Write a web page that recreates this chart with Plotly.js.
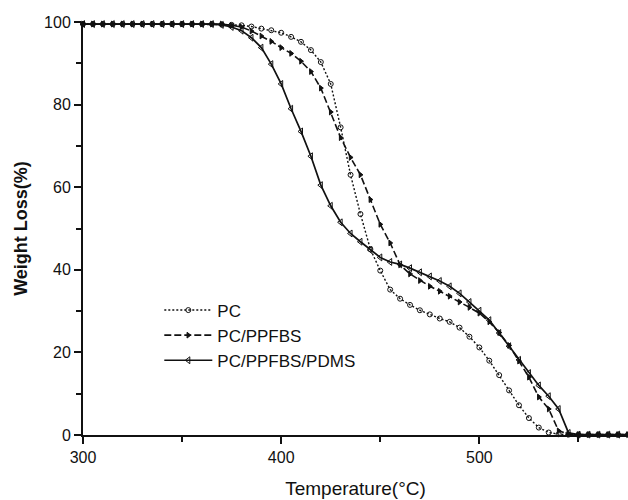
<!DOCTYPE html>
<html>
<head>
<meta charset="utf-8">
<script src="https://cdn.plot.ly/plotly-3.0.1.min.js"></script>
<style>html,body{margin:0;padding:0;background:#fff}#chart{width:628px;height:500px}</style>
</head>
<body>
<div id="chart"></div>
<script>
// Temperature (°C), 5 °C steps
const temperature = [300,305,310,315,320,325,330,335,340,345,350,355,360,365,370,375,380,385,390,395,
  400,405,410,415,420,425,430,435,440,445,450,455,460,465,470,475,480,485,490,495,
  500,505,510,515,520,525,530,535,540,545,550,555,560,565,570,575];

const pcWeight = [99.5,99.5,99.5,99.5,99.5,99.5,99.5,99.5,99.5,99.5,99.5,99.5,99.5,99.5,99.4,99.3,99.2,98.9,98.4,98.0,
  97.4,96.4,95.2,93.2,90.3,85.0,74.5,63.0,53.5,45.0,39.8,35.2,33.0,31.5,30.2,29.2,28.2,27.4,26.0,23.8,
  21.2,18.0,14.5,10.8,7.2,4.1,1.8,0.6,0.2,0.1,0.1,0.1,0.1,0.1,0.1,0.1];

const ppfbsWeight = [99.5,99.5,99.5,99.5,99.5,99.5,99.5,99.5,99.5,99.5,99.5,99.5,99.5,99.5,99.5,99.2,98.8,97.8,96.6,95.3,
  93.8,92.4,90.5,88.0,84.0,78.2,72.0,67.2,63.0,57.0,51.0,46.5,41.2,39.0,37.4,36.0,34.8,33.6,32.2,30.9,
  29.5,27.4,24.8,21.7,17.9,14.0,9.2,6.3,1.0,0.2,0.1,0.1,0.1,0.1,0.1,0.1];

const pdmsWeight = [99.5,99.5,99.5,99.5,99.5,99.5,99.5,99.5,99.5,99.5,99.5,99.5,99.5,99.5,99.3,98.8,97.9,96.2,93.8,89.8,
  85.0,79.0,73.5,67.5,60.5,55.5,51.5,48.8,46.8,44.8,43.0,41.9,41.3,40.4,39.4,38.4,37.3,36.0,34.3,32.2,
  30.1,27.8,24.7,21.5,18.2,15.0,12.0,9.4,6.3,0.5,0.1,0.1,0.1,0.1,0.1,0.1];

const seriesNames = ['PC', 'PC/PPFBS', 'PC/PPFBS/PDMS'];
const xTickVals = [300, 400, 500];
const yTickVals = [0, 20, 40, 60, 80, 100];

const ink = '#111111';
const fontFam = 'Arial, "Liberation Sans", sans-serif';

const traces = [
  {x: temperature, y: pcWeight, name: seriesNames[0], mode: 'lines+markers', cliponaxis: false,
   line: {color: ink, width: 1.4, dash: '2px,2px'},
   marker: {symbol: 'circle-open', size: 5, color: ink, line: {width: 1, color: ink}}},
  {x: temperature, y: ppfbsWeight, name: seriesNames[1], mode: 'lines+markers', cliponaxis: false,
   line: {color: ink, width: 1.6, dash: '7px,3px'},
   marker: {symbol: 'triangle-right', size: 5, color: ink, line: {width: 1, color: ink}}},
  {x: temperature, y: pdmsWeight, name: seriesNames[2], mode: 'lines+markers', cliponaxis: false,
   line: {color: ink, width: 1.7},
   marker: {symbol: 'triangle-left-open', size: 6, color: ink, line: {width: 1, color: ink}}}
];

const layout = {
  width: 628, height: 500,
  margin: {l: 83, r: 0, t: 22, b: 65},
  paper_bgcolor: '#fff', plot_bgcolor: '#fff',
  font: {family: fontFam, color: ink, size: 16},
  showlegend: true,
  legend: {x: 0.14, y: 0.345, xanchor: 'left', yanchor: 'top', bgcolor: 'rgba(0,0,0,0)',
           font: {family: fontFam, size: 17, color: ink}, itemwidth: 48, tracegroupgap: 0},
  xaxis: {
    range: [300, 575], tickvals: xTickVals, ticks: 'outside', ticklen: 7, tickwidth: 2, tickcolor: ink,
    minor: {dtick: 50, tick0: 300, ticks: 'outside', ticklen: 5, tickwidth: 2, tickcolor: ink, showgrid: false},
    showline: true, linewidth: 2, linecolor: ink, showgrid: false, zeroline: false,
    tickfont: {size: 16, family: fontFam, color: ink},
    title: {text: 'Temperature(°C)', font: {size: 19, family: fontFam, color: ink}, standoff: 16}
  },
  yaxis: {
    range: [0, 100], tickvals: yTickVals, ticks: 'outside', ticklen: 7, tickwidth: 2, tickcolor: ink,
    minor: {dtick: 10, tick0: 0, ticks: 'outside', ticklen: 5, tickwidth: 2, tickcolor: ink, showgrid: false},
    showline: true, linewidth: 2, linecolor: ink, showgrid: false, zeroline: false,
    tickfont: {size: 16, family: fontFam, color: ink},
    title: {text: 'Weight Loss(%)', font: {size: 18, family: fontFam, color: ink, weight: 'bold'}, standoff: 12}
  }
};

Plotly.newPlot('chart', traces, layout, {displayModeBar: false, staticPlot: true});
</script>
</body>
</html>
